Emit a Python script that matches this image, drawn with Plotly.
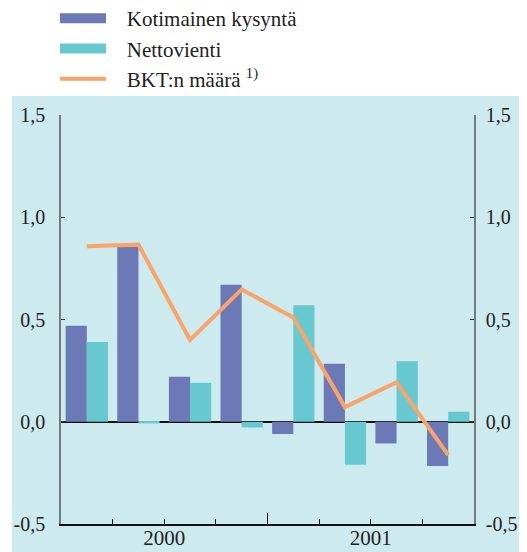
import plotly.graph_objects as go

quarters = ["2000Q1", "2000Q2", "2000Q3", "2000Q4", "2001Q1", "2001Q2", "2001Q3", "2001Q4"]
kotimainen = [0.47, 0.855, 0.22, 0.67, -0.06, 0.284, -0.106, -0.216]
nettovienti = [0.39, -0.008, 0.19, -0.028, 0.57, -0.21, 0.296, 0.049]
bkt = [0.858, 0.866, 0.40, 0.647, 0.51, 0.072, 0.193, -0.163]

y_tickvals = [-0.5, 0.0, 0.5, 1.0, 1.5]
y_ticktext = ["-0,5", "0,0", "0,5", "1,0", "1,5"]
year_tickvals = [1.5, 5.5]
year_ticktext = ["2000", "2001"]
quarter_ticks = [-0.5, 0.5, 2.5, 4.5, 6.5, 7.5]
year_boundary = [3.5]

xpos = list(range(len(quarters)))

PURPLE = "#6b79b6"
TEAL = "#67c8d0"
ORANGE = "#f9a46b"
PANEL = "#cdeaee"
FONT = "Liberation Serif, Times New Roman, serif"
TXT = "#222222"
PAD = "\u00a0\u00a0\u00a0"

fig = go.Figure()
fig.add_trace(go.Bar(x=xpos, y=kotimainen, name="Kotimainen kysyntä", showlegend=False,
                     marker=dict(color=PURPLE, line=dict(width=0))))
fig.add_trace(go.Bar(x=xpos, y=nettovienti, name="Nettovienti", showlegend=False,
                     marker=dict(color=TEAL, line=dict(width=0))))
# legend swatches (no data)
fig.add_trace(go.Scatter(x=[None], y=[None], mode="lines", name=PAD + "Kotimainen kysyntä",
                         line=dict(color=PURPLE, width=21)))
fig.add_trace(go.Scatter(x=[None], y=[None], mode="lines", name=PAD + "Nettovienti",
                         line=dict(color=TEAL, width=21)))
fig.add_trace(go.Scatter(x=xpos, y=bkt, name=PAD + "BKT:n määrä <sup>1)</sup>", mode="lines",
                         xaxis="x2", yaxis="y2",
                         line=dict(color=ORANGE, width=4)))

# page body has an 8px margin; figure coordinates below are screen - 8
W, H = 519, 544
L, R, T, B = 53, 53, 107, 28
pw, ph = W - L - R, H - T - B

fig.add_shape(type="rect", xref="paper", yref="paper", layer="below",
              x0=(4 - L) / pw, x1=(W - L) / pw,
              y0=-B / ph, y1=(H - 88 - B) / ph,
              fillcolor=PANEL, line=dict(width=0))

fig.update_layout(
    width=W, height=H,
    margin=dict(l=L, r=R, t=T, b=B, autoexpand=False),
    paper_bgcolor="white", plot_bgcolor=PANEL,
    barmode="group", bargap=0.18, bargroupgap=0,
    font=dict(family=FONT, size=20, color=TXT),
    showlegend=True,
    legend=dict(x=(47 - L) / pw, y=(H - B + 10) / ph, xanchor="left", yanchor="top",
                bgcolor="rgba(0,0,0,0)", font=dict(family=FONT, size=21, color=TXT),
                itemwidth=46, tracegroupgap=0, traceorder="normal"),
    xaxis=dict(range=[-0.5, 7.5], showgrid=False, zeroline=False, automargin=False,
               showline=True, linecolor="#111111", linewidth=2,
               tickmode="array", tickvals=year_tickvals, ticktext=year_ticktext,
               ticks="inside", ticklen=5, tickwidth=1.2, tickcolor="#111111",
               ticklabelstandoff=-6,
               minor=dict(tickmode="array", tickvals=quarter_ticks, ticks="inside",
                          ticklen=5, tickwidth=1.2, tickcolor="#111111"),
               tickfont=dict(family=FONT, size=21, color=TXT)),
    xaxis2=dict(range=[-0.5, 7.5], overlaying="x", side="bottom", showgrid=False,
                zeroline=False, showline=False, automargin=False,
                tickmode="array", tickvals=year_boundary, ticks="inside",
                ticklen=11, tickwidth=1.4, tickcolor="#111111", showticklabels=False),
    yaxis=dict(range=[-0.5, 1.5], showgrid=False, automargin=False,
               zeroline=True, zerolinecolor="#111111", zerolinewidth=1.5,
               showline=True, linecolor="#6e7c80", linewidth=1.5,
               tickmode="array", tickvals=y_tickvals, ticktext=y_ticktext,
               ticks="inside", ticklen=4, tickcolor="#333333", tickwidth=1.2,
               ticklabelstandoff=10,
               tickfont=dict(family=FONT, size=20, color=TXT)),
    yaxis2=dict(range=[-0.5, 1.5], overlaying="y", side="right", showgrid=False,
                zeroline=False, showline=True, linecolor="#6e7c80", linewidth=1.5,
                automargin=False,
                tickmode="array", tickvals=y_tickvals, ticktext=y_ticktext,
                ticks="inside", ticklen=4, tickcolor="#333333", tickwidth=1.2,
                ticklabelstandoff=6,
                tickfont=dict(family=FONT, size=20, color=TXT)),
)

fig.write_html("out.html")
